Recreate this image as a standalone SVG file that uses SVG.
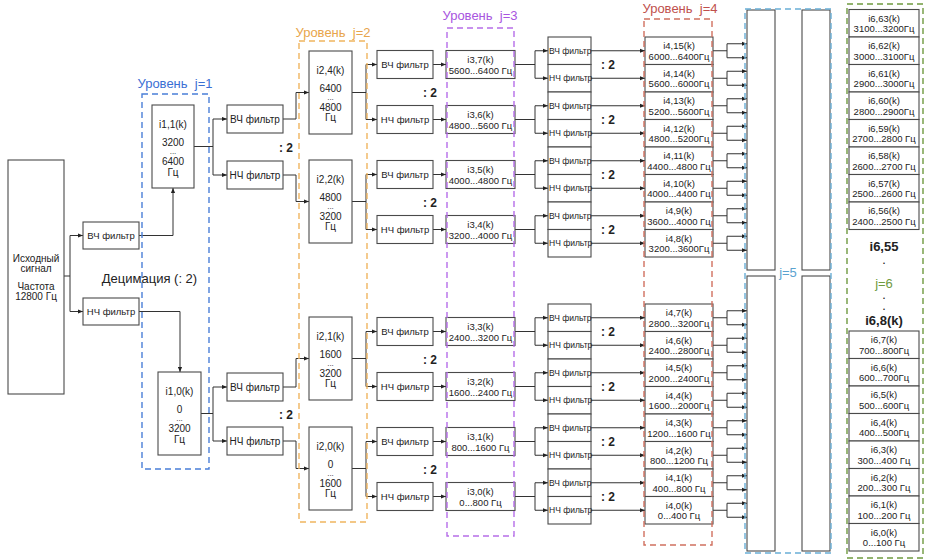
<svg xmlns="http://www.w3.org/2000/svg" width="925" height="560" viewBox="0 0 925 560">
<style>
.b{fill:#fff;stroke:#4a4a4a;stroke-width:1.1}
.l{fill:none;stroke:#333;stroke-width:1}
.a{fill:none;stroke:#333;stroke-width:1;marker-end:url(#ah)}
text{font-family:"Liberation Sans",Arial,sans-serif;fill:#222;text-anchor:middle}
.f10{font-size:10px}
.dt{font-size:8px}
.f95{font-size:9.5px}
.f85{font-size:8.5px;text-anchor:start}
.c2{font-size:12px;font-weight:bold}
.lv{font-size:13px;white-space:pre}
.d{fill:none;stroke-width:1.4;stroke-dasharray:6 4}
.bd{font-size:13px;font-weight:bold}
.sd{font-size:9px;font-weight:bold}
</style>
<defs>
<marker id="ah" viewBox="0 0 6 6" refX="6" refY="3" markerWidth="5" markerHeight="5" markerUnits="userSpaceOnUse" orient="auto"><path d="M0,0.5 L6,3 L0,5.5z" fill="#222"/></marker>
</defs>
<rect x="0" y="0" width="925" height="560" fill="#fff"/>

<g id="connectors">
<path class="l" d="M64,276H70M70,235.5V311.5"/>
<path class="a" d="M70,235.5H83"/><path class="a" d="M70,311.5H83"/>
<path class="a" d="M139,235.5H173V188"/>
<path class="a" d="M139,311.5H180V372"/>
<path class="l" d="M194,146.5H213M213,119V175M201,413.5H213M213,387V441"/>
<path class="a" d="M213,119H227"/><path class="a" d="M213,175H227"/>
<path class="a" d="M213,387H227"/><path class="a" d="M213,441H227"/>
<path class="a" d="M283,119H296V92.5H309"/>
<path class="a" d="M283,175H296V201.5H309"/>
<path class="a" d="M283,387H296V358.5H309"/>
<path class="a" d="M283,441H296V468.5H309"/>
<path class="l" d="M352,92.5H366M366,64.5V119.5M352,201.5H366M366,174.5V229.5M352,358.5H366M366,331.5V386.5M352,468.5H366M366,441.5V496.5"/>
<path class="a" d="M366,64.5H377"/><path class="a" d="M366,119.5H377"/>
<path class="a" d="M366,174.5H377"/><path class="a" d="M366,229.5H377"/>
<path class="a" d="M366,331.5H377"/><path class="a" d="M366,386.5H377"/>
<path class="a" d="M366,441.5H377"/><path class="a" d="M366,496.5H377"/>
<path class="a" d="M433,64.5H446"/><path class="a" d="M433,119.5H446"/>
<path class="a" d="M433,174.5H446"/><path class="a" d="M433,229.5H446"/>
<path class="a" d="M433,331.5H446"/><path class="a" d="M433,386.5H446"/>
<path class="a" d="M433,441.5H446"/><path class="a" d="M433,496.5H446"/>
<path class="l" d="M515,64.5H535M535,50.75V78.25M515,119.5H535M535,105.75V133.25M515,174.5H535M535,160.75V188.25M515,229.5H535M535,215.75V243.25M515,331.5H535M535,317.75V345.25M515,386.5H535M535,372.75V400.25M515,441.5H535M535,427.75V455.25M515,496.5H535M535,482.75V510.25"/>
<path class="a" d="M535,50.75H548"/><path class="a" d="M535,78.25H548"/>
<path class="a" d="M535,105.75H548"/><path class="a" d="M535,133.25H548"/>
<path class="a" d="M535,160.75H548"/><path class="a" d="M535,188.25H548"/>
<path class="a" d="M535,215.75H548"/><path class="a" d="M535,243.25H548"/>
<path class="a" d="M535,317.75H548"/><path class="a" d="M535,345.25H548"/>
<path class="a" d="M535,372.75H548"/><path class="a" d="M535,400.25H548"/>
<path class="a" d="M535,427.75H548"/><path class="a" d="M535,455.25H548"/>
<path class="a" d="M535,482.75H548"/><path class="a" d="M535,510.25H548"/>
<path class="a" d="M591,50.75H645"/><path class="a" d="M591,78.25H645"/>
<path class="a" d="M591,105.75H645"/><path class="a" d="M591,133.25H645"/>
<path class="a" d="M591,160.75H645"/><path class="a" d="M591,188.25H645"/>
<path class="a" d="M591,215.75H645"/><path class="a" d="M591,243.25H645"/>
<path class="a" d="M591,317.75H645"/><path class="a" d="M591,345.25H645"/>
<path class="a" d="M591,372.75H645"/><path class="a" d="M591,400.25H645"/>
<path class="a" d="M591,427.75H645"/><path class="a" d="M591,455.25H645"/>
<path class="a" d="M591,482.75H645"/><path class="a" d="M591,510.25H645"/>
<path class="l" d="M713,50.75H727M727,43.75V57.75M713,78.25H727M727,71.25V85.25M713,105.75H727M727,98.75V112.75M713,133.25H727M727,126.25V140.25M713,160.75H727M727,153.75V167.75M713,188.25H727M727,181.25V195.25M713,215.75H727M727,208.75V222.75M713,243.25H727M727,236.25V250.25"/>
<path class="l" d="M713,317.75H727M727,310.75V324.75M713,345.25H727M727,338.25V352.25M713,372.75H727M727,365.75V379.75M713,400.25H727M727,393.25V407.25M713,427.75H727M727,420.75V434.75M713,455.25H727M727,448.25V462.25M713,482.75H727M727,475.75V489.75M713,510.25H727M727,503.25V517.25"/>
<path class="a" d="M727,43.75H747"/><path class="a" d="M727,57.75H747"/>
<path class="a" d="M727,71.25H747"/><path class="a" d="M727,85.25H747"/>
<path class="a" d="M727,98.75H747"/><path class="a" d="M727,112.75H747"/>
<path class="a" d="M727,126.25H747"/><path class="a" d="M727,140.25H747"/>
<path class="a" d="M727,153.75H747"/><path class="a" d="M727,167.75H747"/>
<path class="a" d="M727,181.25H747"/><path class="a" d="M727,195.25H747"/>
<path class="a" d="M727,208.75H747"/><path class="a" d="M727,222.75H747"/>
<path class="a" d="M727,236.25H747"/><path class="a" d="M727,250.25H747"/>
<path class="a" d="M727,310.75H747"/><path class="a" d="M727,324.75H747"/>
<path class="a" d="M727,338.25H747"/><path class="a" d="M727,352.25H747"/>
<path class="a" d="M727,365.75H747"/><path class="a" d="M727,379.75H747"/>
<path class="a" d="M727,393.25H747"/><path class="a" d="M727,407.25H747"/>
<path class="a" d="M727,420.75H747"/><path class="a" d="M727,434.75H747"/>
<path class="a" d="M727,448.25H747"/><path class="a" d="M727,462.25H747"/>
<path class="a" d="M727,475.75H747"/><path class="a" d="M727,489.75H747"/>
<path class="a" d="M727,503.25H747"/><path class="a" d="M727,517.25H747"/>
</g>

<g id="source"><rect class="b" x="8" y="160" width="56" height="234"/><text class="f10" x="36" y="262">Исходный</text><text class="f10" x="36" y="272">сигнал</text><text class="f10" x="36" y="290">Частота</text><text class="f10" x="36" y="300">12800 Гц</text></g>

<g id="hp1"><rect class="b" x="83" y="222" width="56" height="27"/><text class="f95" x="111" y="239">ВЧ фильтр</text></g>
<g id="lp1"><rect class="b" x="83" y="298" width="56" height="27"/><text class="f95" x="111" y="315">НЧ фильтр</text></g>

<g id="i1_1"><rect class="b" x="152" y="105" width="42" height="83"/><text class="f10" x="173" y="127.5">i1,1(k)</text><text class="f10" x="173" y="146">3200</text><text class="dt" x="173" y="154">...</text><text class="f10" x="173" y="165">6400</text><text class="f10" x="173" y="175.5">Гц</text></g>
<g id="i1_0"><rect class="b" x="158" y="372" width="43" height="83"/><text class="f10" x="179.5" y="394.5">i1,0(k)</text><text class="f10" x="179.5" y="413">0</text><text class="dt" x="179.5" y="421">...</text><text class="f10" x="179.5" y="432">3200</text><text class="f10" x="179.5" y="442.5">Гц</text></g>

<g id="hp2a"><rect class="b" x="227" y="105" width="56" height="28"/><text class="f10" x="255" y="122.5">ВЧ фильтр</text></g>
<g id="lp2a"><rect class="b" x="227" y="161" width="56" height="28"/><text class="f10" x="255" y="178.5">НЧ фильтр</text></g>
<g id="hp2b"><rect class="b" x="227" y="373" width="56" height="28"/><text class="f10" x="255" y="390.5">ВЧ фильтр</text></g>
<g id="lp2b"><rect class="b" x="227" y="427" width="56" height="28"/><text class="f10" x="255" y="444.5">НЧ фильтр</text></g>

<g id="i2_4"><rect class="b" x="309" y="51" width="43" height="83"/><text class="f10" x="330.5" y="73.5">i2,4(k)</text><text class="f10" x="330.5" y="92">6400</text><text class="dt" x="330.5" y="100">...</text><text class="f10" x="330.5" y="111">4800</text><text class="f10" x="330.5" y="120.5">Гц</text></g>
<g id="i2_2"><rect class="b" x="309" y="160" width="43" height="83"/><text class="f10" x="330.5" y="182.5">i2,2(k)</text><text class="f10" x="330.5" y="201">4800</text><text class="dt" x="330.5" y="209">...</text><text class="f10" x="330.5" y="220">3200</text><text class="f10" x="330.5" y="229.5">Гц</text></g>
<g id="i2_1"><rect class="b" x="309" y="317" width="43" height="83"/><text class="f10" x="330.5" y="339.5">i2,1(k)</text><text class="f10" x="330.5" y="358">1600</text><text class="dt" x="330.5" y="366">...</text><text class="f10" x="330.5" y="377">3200</text><text class="f10" x="330.5" y="386.5">Гц</text></g>
<g id="i2_0"><rect class="b" x="309" y="427" width="43" height="83"/><text class="f10" x="330.5" y="449.5">i2,0(k)</text><text class="f10" x="330.5" y="468">0</text><text class="dt" x="330.5" y="476">...</text><text class="f10" x="330.5" y="487">1600</text><text class="f10" x="330.5" y="496.5">Гц</text></g>

<g id="f3_7"><rect class="b" x="377" y="50.5" width="56" height="28"/><text class="f95" x="405" y="68">ВЧ фильтр</text></g>
<g id="f3_6"><rect class="b" x="377" y="105.5" width="56" height="28"/><text class="f95" x="405" y="123">НЧ фильтр</text></g>
<g id="f3_5"><rect class="b" x="377" y="160.5" width="56" height="28"/><text class="f95" x="405" y="178">ВЧ фильтр</text></g>
<g id="f3_4"><rect class="b" x="377" y="215.5" width="56" height="28"/><text class="f95" x="405" y="233">НЧ фильтр</text></g>
<g id="f3_3"><rect class="b" x="377" y="317.5" width="56" height="28"/><text class="f95" x="405" y="335">ВЧ фильтр</text></g>
<g id="f3_2"><rect class="b" x="377" y="372.5" width="56" height="28"/><text class="f95" x="405" y="390">НЧ фильтр</text></g>
<g id="f3_1"><rect class="b" x="377" y="427.5" width="56" height="28"/><text class="f95" x="405" y="445">ВЧ фильтр</text></g>
<g id="f3_0"><rect class="b" x="377" y="482.5" width="56" height="28"/><text class="f95" x="405" y="500">НЧ фильтр</text></g>

<g id="i3_7"><rect class="b" x="446" y="50.5" width="69" height="28"/><text class="f95" x="480.5" y="63">i3,7(k)</text><text class="f95" x="480.5" y="73.5">5600...6400 Гц</text></g>
<g id="i3_6"><rect class="b" x="446" y="105.5" width="69" height="28"/><text class="f95" x="480.5" y="118">i3,6(k)</text><text class="f95" x="480.5" y="128.5">4800...5600 Гц</text></g>
<g id="i3_5"><rect class="b" x="446" y="160.5" width="69" height="28"/><text class="f95" x="480.5" y="173">i3,5(k)</text><text class="f95" x="480.5" y="183.5">4000...4800 Гц</text></g>
<g id="i3_4"><rect class="b" x="446" y="215.5" width="69" height="28"/><text class="f95" x="480.5" y="228">i3,4(k)</text><text class="f95" x="480.5" y="238.5">3200...4000 Гц</text></g>
<g id="i3_3"><rect class="b" x="446" y="317.5" width="69" height="28"/><text class="f95" x="480.5" y="330">i3,3(k)</text><text class="f95" x="480.5" y="340.5">2400...3200 Гц</text></g>
<g id="i3_2"><rect class="b" x="446" y="372.5" width="69" height="28"/><text class="f95" x="480.5" y="385">i3,2(k)</text><text class="f95" x="480.5" y="395.5">1600...2400 Гц</text></g>
<g id="i3_1"><rect class="b" x="446" y="427.5" width="69" height="28"/><text class="f95" x="480.5" y="440">i3,1(k)</text><text class="f95" x="480.5" y="450.5">800...1600 Гц</text></g>
<g id="i3_0"><rect class="b" x="446" y="482.5" width="69" height="28"/><text class="f95" x="480.5" y="495">i3,0(k)</text><text class="f95" x="480.5" y="505.5">0...800 Гц</text></g>

<g id="f4_15"><rect class="b" x="548" y="37" width="43" height="27.5"/><text class="f85" x="549" y="53.75">ВЧ фильтр</text></g>
<g id="f4_14"><rect class="b" x="548" y="64.5" width="43" height="27.5"/><text class="f85" x="549" y="81.25">НЧ фильтр</text></g>
<g id="f4_13"><rect class="b" x="548" y="92" width="43" height="27.5"/><text class="f85" x="549" y="108.75">ВЧ фильтр</text></g>
<g id="f4_12"><rect class="b" x="548" y="119.5" width="43" height="27.5"/><text class="f85" x="549" y="136.25">НЧ фильтр</text></g>
<g id="f4_11"><rect class="b" x="548" y="147" width="43" height="27.5"/><text class="f85" x="549" y="163.75">ВЧ фильтр</text></g>
<g id="f4_10"><rect class="b" x="548" y="174.5" width="43" height="27.5"/><text class="f85" x="549" y="191.25">НЧ фильтр</text></g>
<g id="f4_9"><rect class="b" x="548" y="202" width="43" height="27.5"/><text class="f85" x="549" y="218.75">ВЧ фильтр</text></g>
<g id="f4_8"><rect class="b" x="548" y="229.5" width="43" height="27.5"/><text class="f85" x="549" y="246.25">НЧ фильтр</text></g>
<g id="f4_7"><rect class="b" x="548" y="304" width="43" height="27.5"/><text class="f85" x="549" y="320.75">ВЧ фильтр</text></g>
<g id="f4_6"><rect class="b" x="548" y="331.5" width="43" height="27.5"/><text class="f85" x="549" y="348.25">НЧ фильтр</text></g>
<g id="f4_5"><rect class="b" x="548" y="359" width="43" height="27.5"/><text class="f85" x="549" y="375.75">ВЧ фильтр</text></g>
<g id="f4_4"><rect class="b" x="548" y="386.5" width="43" height="27.5"/><text class="f85" x="549" y="403.25">НЧ фильтр</text></g>
<g id="f4_3"><rect class="b" x="548" y="414" width="43" height="27.5"/><text class="f85" x="549" y="430.75">ВЧ фильтр</text></g>
<g id="f4_2"><rect class="b" x="548" y="441.5" width="43" height="27.5"/><text class="f85" x="549" y="458.25">НЧ фильтр</text></g>
<g id="f4_1"><rect class="b" x="548" y="469" width="43" height="27.5"/><text class="f85" x="549" y="485.75">ВЧ фильтр</text></g>
<g id="f4_0"><rect class="b" x="548" y="496.5" width="43" height="27.5"/><text class="f85" x="549" y="513.25">НЧ фильтр</text></g>

<g id="i4_15"><rect class="b" x="645" y="37" width="68" height="27.5"/><text class="f95" x="679" y="49.25">i4,15(k)</text><text class="f95" x="679" y="59.75">6000...6400Гц</text></g>
<g id="i4_14"><rect class="b" x="645" y="64.5" width="68" height="27.5"/><text class="f95" x="679" y="76.75">i4,14(k)</text><text class="f95" x="679" y="87.25">5600...6000Гц</text></g>
<g id="i4_13"><rect class="b" x="645" y="92" width="68" height="27.5"/><text class="f95" x="679" y="104.25">i4,13(k)</text><text class="f95" x="679" y="114.75">5200...5600Гц</text></g>
<g id="i4_12"><rect class="b" x="645" y="119.5" width="68" height="27.5"/><text class="f95" x="679" y="131.75">i4,12(k)</text><text class="f95" x="679" y="142.25">4800...5200Гц</text></g>
<g id="i4_11"><rect class="b" x="645" y="147" width="68" height="27.5"/><text class="f95" x="679" y="159.25">i4,11(k)</text><text class="f95" x="679" y="169.75">4400...4800 Гц</text></g>
<g id="i4_10"><rect class="b" x="645" y="174.5" width="68" height="27.5"/><text class="f95" x="679" y="186.75">i4,10(k)</text><text class="f95" x="679" y="197.25">4000...4400 Гц</text></g>
<g id="i4_9"><rect class="b" x="645" y="202" width="68" height="27.5"/><text class="f95" x="679" y="214.25">i4,9(k)</text><text class="f95" x="679" y="224.75">3600...4000 Гц</text></g>
<g id="i4_8"><rect class="b" x="645" y="229.5" width="68" height="27.5"/><text class="f95" x="679" y="241.75">i4,8(k)</text><text class="f95" x="679" y="252.25">3200...3600Гц</text></g>
<g id="i4_7"><rect class="b" x="645" y="304" width="68" height="27.5"/><text class="f95" x="679" y="316.25">i4,7(k)</text><text class="f95" x="679" y="326.75">2800...3200Гц</text></g>
<g id="i4_6"><rect class="b" x="645" y="331.5" width="68" height="27.5"/><text class="f95" x="679" y="343.75">i4,6(k)</text><text class="f95" x="679" y="354.25">2400...2800Гц</text></g>
<g id="i4_5"><rect class="b" x="645" y="359" width="68" height="27.5"/><text class="f95" x="679" y="371.25">i4,5(k)</text><text class="f95" x="679" y="381.75">2000...2400Гц</text></g>
<g id="i4_4"><rect class="b" x="645" y="386.5" width="68" height="27.5"/><text class="f95" x="679" y="398.75">i4,4(k)</text><text class="f95" x="679" y="409.25">1600...2000Гц</text></g>
<g id="i4_3"><rect class="b" x="645" y="414" width="68" height="27.5"/><text class="f95" x="679" y="426.25">i4,3(k)</text><text class="f95" x="679" y="436.75">1200...1600 Гц</text></g>
<g id="i4_2"><rect class="b" x="645" y="441.5" width="68" height="27.5"/><text class="f95" x="679" y="453.75">i4,2(k)</text><text class="f95" x="679" y="464.25">800...1200 Гц</text></g>
<g id="i4_1"><rect class="b" x="645" y="469" width="68" height="27.5"/><text class="f95" x="679" y="481.25">i4,1(k)</text><text class="f95" x="679" y="491.75">400...800 Гц</text></g>
<g id="i4_0"><rect class="b" x="645" y="496.5" width="68" height="27.5"/><text class="f95" x="679" y="508.75">i4,0(k)</text><text class="f95" x="679" y="519.25">0...400 Гц</text></g>

<g id="l5a"><rect class="b" x="747" y="10" width="28" height="260"/></g>
<g id="l5b"><rect class="b" x="802" y="10" width="28" height="260"/></g>
<g id="l5c"><rect class="b" x="747" y="276" width="28" height="275"/></g>
<g id="l5d"><rect class="b" x="802" y="276" width="28" height="275"/></g>

<g id="i6_63"><rect class="b" x="849" y="9.5" width="70" height="27.5"/><text class="f95" x="884" y="21.75">i6,63(k)</text><text class="f95" x="884" y="32.25">3100...3200Гц</text></g>
<g id="i6_62"><rect class="b" x="849" y="37" width="70" height="27.5"/><text class="f95" x="884" y="49.25">i6,62(k)</text><text class="f95" x="884" y="59.75">3000...3100Гц</text></g>
<g id="i6_61"><rect class="b" x="849" y="64.5" width="70" height="27.5"/><text class="f95" x="884" y="76.75">i6,61(k)</text><text class="f95" x="884" y="87.25">2900...3000Гц</text></g>
<g id="i6_60"><rect class="b" x="849" y="92" width="70" height="27.5"/><text class="f95" x="884" y="104.25">i6,60(k)</text><text class="f95" x="884" y="114.75">2800...2900Гц</text></g>
<g id="i6_59"><rect class="b" x="849" y="119.5" width="70" height="27.5"/><text class="f95" x="884" y="131.75">i6,59(k)</text><text class="f95" x="884" y="142.25">2700...2800 Гц</text></g>
<g id="i6_58"><rect class="b" x="849" y="147" width="70" height="27.5"/><text class="f95" x="884" y="159.25">i6,58(k)</text><text class="f95" x="884" y="169.75">2600...2700 Гц</text></g>
<g id="i6_57"><rect class="b" x="849" y="174.5" width="70" height="27.5"/><text class="f95" x="884" y="186.75">i6,57(k)</text><text class="f95" x="884" y="197.25">2500...2600 Гц</text></g>
<g id="i6_56"><rect class="b" x="849" y="202" width="70" height="27.5"/><text class="f95" x="884" y="214.25">i6,56(k)</text><text class="f95" x="884" y="224.75">2400...2500 Гц</text></g>
<g id="i6_7"><rect class="b" x="849" y="331" width="70" height="27.5"/><text class="f95" x="884" y="343.25">i6,7(k)</text><text class="f95" x="884" y="353.75">700...800Гц</text></g>
<g id="i6_6"><rect class="b" x="849" y="358.5" width="70" height="27.5"/><text class="f95" x="884" y="370.75">i6,6(k)</text><text class="f95" x="884" y="381.25">600...700Гц</text></g>
<g id="i6_5"><rect class="b" x="849" y="386" width="70" height="27.5"/><text class="f95" x="884" y="398.25">i6,5(k)</text><text class="f95" x="884" y="408.75">500...600Гц</text></g>
<g id="i6_4"><rect class="b" x="849" y="413.5" width="70" height="27.5"/><text class="f95" x="884" y="425.75">i6,4(k)</text><text class="f95" x="884" y="436.25">400...500Гц</text></g>
<g id="i6_3"><rect class="b" x="849" y="441" width="70" height="27.5"/><text class="f95" x="884" y="453.25">i6,3(k)</text><text class="f95" x="884" y="463.75">300...400 Гц</text></g>
<g id="i6_2"><rect class="b" x="849" y="468.5" width="70" height="27.5"/><text class="f95" x="884" y="480.75">i6,2(k)</text><text class="f95" x="884" y="491.25">200...300 Гц</text></g>
<g id="i6_1"><rect class="b" x="849" y="496" width="70" height="27.5"/><text class="f95" x="884" y="508.25">i6,1(k)</text><text class="f95" x="884" y="518.75">100...200 Гц</text></g>
<g id="i6_0"><rect class="b" x="849" y="523.5" width="70" height="27.5"/><text class="f95" x="884" y="535.75">i6,0(k)</text><text class="f95" x="884" y="546.25">0...100 Гц</text></g>

<g id="frames">
<rect class="d" x="142" y="94" width="67" height="375" stroke="#4a7fd8"/>
<rect class="d" x="299" y="41" width="68" height="481" stroke="#f0b55f"/>
<rect class="d" x="447" y="28" width="67" height="508" stroke="#b66ee8"/>
<rect class="d" x="644" y="19" width="68" height="526" stroke="#d0705f"/>
<rect class="d" x="745" y="9" width="86" height="544" stroke="#6aaed6"/>
<rect class="d" x="847" y="4" width="76" height="554" stroke="#6f9a3f"/>
</g>

<g id="labels">
<text class="lv" xml:space="preserve" x="175" y="88" style="fill:#3b6fd4">Уровень  j=1</text>
<text class="lv" xml:space="preserve" x="333" y="37" style="fill:#e8a54b">Уровень  j=2</text>
<text class="lv" xml:space="preserve" x="480" y="20" style="fill:#a855e0">Уровень  j=3</text>
<text class="lv" xml:space="preserve" x="680" y="13" style="fill:#c0504d">Уровень  j=4</text>
<text class="lv" x="788" y="277" style="fill:#5ba3d0">j=5</text>
<text style="font-size:13px" x="149.5" y="282.5">Децимация (: 2)</text>
<text class="c2" x="286" y="151.5">: 2</text>
<text class="c2" x="286" y="418.5">: 2</text>
<text class="c2" x="430" y="96.5">: 2</text>
<text class="c2" x="430" y="206.5">: 2</text>
<text class="c2" x="430" y="363.5">: 2</text>
<text class="c2" x="430" y="473.5">: 2</text>
<text class="c2" x="608" y="69">: 2</text>
<text class="c2" x="608" y="124">: 2</text>
<text class="c2" x="608" y="179">: 2</text>
<text class="c2" x="608" y="234">: 2</text>
<text class="c2" x="608" y="336">: 2</text>
<text class="c2" x="608" y="391">: 2</text>
<text class="c2" x="608" y="446">: 2</text>
<text class="c2" x="608" y="501">: 2</text>
<text class="bd" x="884" y="251">i6,55</text>
<text class="sd" x="884" y="264">.</text>
<text style="font-size:13px;fill:#6f9a3f" x="884" y="287.5">j=6</text>
<text class="sd" x="884" y="299">.</text>
<text class="sd" x="884" y="310">.</text>
<text class="bd" x="884" y="325">i6,8(k)</text>
</g>
</svg>
